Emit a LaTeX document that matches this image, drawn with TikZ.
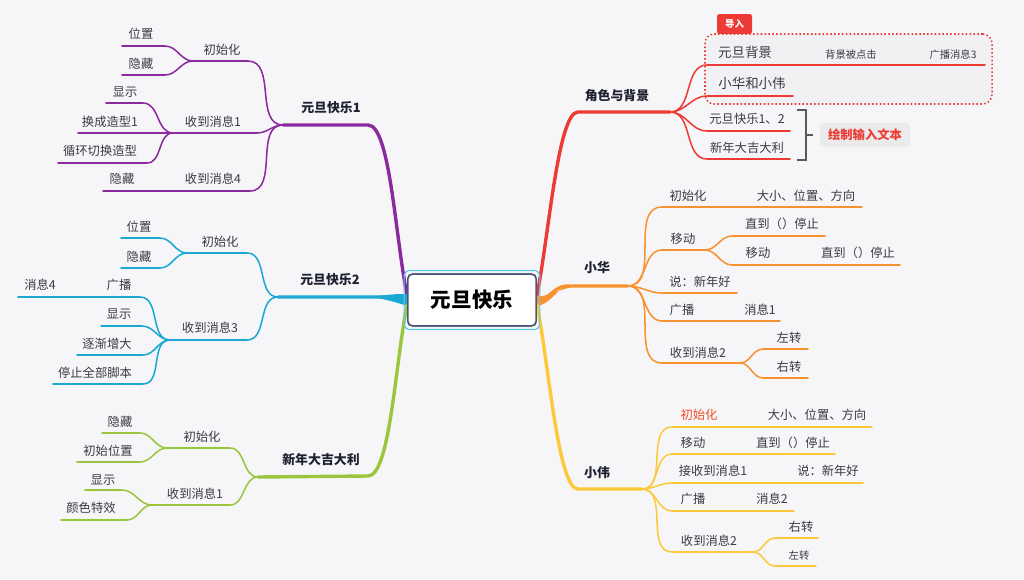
\documentclass[tikz,border=0pt]{standalone}
\usepackage{fontspec}
\setmainfont{Noto Sans CJK SC}
\usetikzlibrary{calc}
\definecolor{bg}{HTML}{F6F6F9}
\definecolor{txt}{HTML}{3A3A44}
\definecolor{ttl}{HTML}{1E2230}
\definecolor{pl}{HTML}{8B2A9E}
\definecolor{cl}{HTML}{1BA9D4}
\definecolor{gl}{HTML}{9BC53D}
\definecolor{rl}{HTML}{EB3B34}
\definecolor{ol}{HTML}{F7922E}
\definecolor{yl}{HTML}{FCC93A}
\definecolor{rootc}{HTML}{4B5578}
\definecolor{selc}{HTML}{5AC8F5}
\definecolor{warn}{HTML}{F04E28}
\definecolor{grpfill}{HTML}{F1F1F3}
\definecolor{notefill}{HTML}{EBEBEB}
\definecolor{brkc}{HTML}{5A5A5A}

\begin{document}
\begin{tikzpicture}[x=0.03cm,y=-0.03cm,
  lab/.style={text=txt,font=\fontsize{10.5}{12}\selectfont,inner sep=0pt},
  big/.style={text=txt,font=\fontsize{11.5}{13}\selectfont,inner sep=0pt},
  sml/.style={text=txt,font=\fontsize{8.8}{10}\selectfont,inner sep=0pt},
  topic/.style={text=ttl,font=\fontsize{11}{13}\selectfont\bfseries,inner sep=0pt},
  br/.style={line width=1.3pt,line cap=round},
  mainbr/.style={line width=2.9pt,line cap=round},
  lb/.style={out=180,in=0},
  rb/.style={out=0,in=180}]

\useasboundingbox (0,0) rectangle (1024,579);
\fill[bg] (0,0) rectangle (1024,579);

% hubs and line ends
\path (283,125) coordinate (P0)
  (248,61) coordinate (p1s) (193,61) coordinate (P1)
  (165,46) coordinate (p11s) (122,46) coordinate (p11e)
  (165,75) coordinate (p12s) (122,75) coordinate (p12e)
  (257,133) coordinate (p2s) (173,133) coordinate (P2)
  (143,103) coordinate (p21s) (106,103) coordinate (p21e)
  (78,133) coordinate (p22e)
  (147,163) coordinate (p23s) (58,163) coordinate (p23e)
  (250,191) coordinate (p3s) (103,191) coordinate (p3e);
\path (278,297) coordinate (C0)
  (247,253) coordinate (c1s) (187,253) coordinate (C1)
  (160,238) coordinate (c11s) (121,238) coordinate (c11e)
  (160,268) coordinate (c12s) (121,268) coordinate (c12e)
  (247,340) coordinate (c2s) (170,340) coordinate (C2)
  (140,297) coordinate (c21s) (18,297) coordinate (c21e)
  (142,326) coordinate (c22s) (101,326) coordinate (c22e)
  (143,355) coordinate (c23s) (77,355) coordinate (c23e)
  (143,384) coordinate (c24s) (53,384) coordinate (c24e);
\path (258,477) coordinate (G0)
  (230,448) coordinate (g1s) (167,448) coordinate (G1)
  (140,433) coordinate (g11s) (102,433) coordinate (g11e)
  (140,462) coordinate (g12s) (77,462) coordinate (g12e)
  (230,505) coordinate (g2s) (152,505) coordinate (G2)
  (122,490) coordinate (g21s) (85,490) coordinate (g21e)
  (127,520) coordinate (g22s) (61,520) coordinate (g22e);
\path (670,112) coordinate (R0)
  (707,65) coordinate (r1s) (985,65) coordinate (r1e)
  (707,96) coordinate (r2s) (793,96) coordinate (r2e)
  (707,131) coordinate (r3s) (790,131) coordinate (r3e)
  (707,159) coordinate (r4s) (790,159) coordinate (r4e);
\path (628,286) coordinate (O0)
  (662,207) coordinate (o1s) (862,207) coordinate (o1e)
  (662,250) coordinate (o2s) (705,250) coordinate (O2)
  (732,236) coordinate (o21s) (825,236) coordinate (o21e)
  (732,265) coordinate (o22s) (900,265) coordinate (o22e)
  (662,293) coordinate (o3s) (737,293) coordinate (o3e)
  (662,321) coordinate (o4s) (780,321) coordinate (o4e)
  (662,363) coordinate (o5s) (740,363) coordinate (O5)
  (763,349) coordinate (o51s) (808,349) coordinate (o51e)
  (763,378) coordinate (o52s) (808,378) coordinate (o52e);
\path (642,489) coordinate (Y0)
  (672,427) coordinate (y1s) (872,427) coordinate (y1e)
  (672,454) coordinate (y2s) (835,454) coordinate (y2e)
  (672,483) coordinate (y3s) (863,483) coordinate (y3e)
  (672,511) coordinate (y4s) (794,511) coordinate (y4e)
  (672,552) coordinate (y5s) (753,552) coordinate (Y5)
  (775,538) coordinate (y51s) (818,538) coordinate (y51e)
  (775,566) coordinate (y52s) (816,566) coordinate (y52e);

% import group
\node[fill=rl,text=white,font=\fontsize{8}{9}\selectfont\bfseries,minimum width=1.05cm,
  minimum height=0.6cm,inner sep=0pt,rounded corners=2pt] (imp) at (734.5,24) {导入};
\node[draw=rl,fill=grpfill,dotted,line width=1.3pt,rounded corners=8pt,
  minimum width=8.61cm,minimum height=2.1cm] (grp) at (848.5,69) {};

\node (root) at (472,300) [draw=rootc,line width=1.3pt,fill=white,rounded corners=4pt,
  minimum width=3.85cm,minimum height=1.55cm,font=\fontsize{17.5}{20}\selectfont\bfseries] {元旦快乐};

% main branches
\draw[mainbr,pl] ([yshift=4pt]root.west) .. controls +(-12,-60) and (390,125) .. (368,125) -- (P0);
\draw[mainbr,cl] (root.west) to[lb] (380,297) -- (C0);
\fill[cl] ([yshift=5pt]root.west) .. controls (395,294) .. (378,296) -- (378,298) .. controls (395,302) .. ([yshift=-5pt]root.west) -- cycle;
\draw[mainbr,gl] ([yshift=-4pt]root.west) .. controls +(-12,60) and (390,476) .. (368,476) -- (G0);
\draw[mainbr,rl] ([yshift=4pt]root.east) .. controls +(12,-60) and (558,112) .. (578,112) -- (R0);
\draw[mainbr,ol] (root.east) to[rb] (567,286) -- (O0);
\fill[ol] ([yshift=-5pt]root.east) .. controls (552,304) and (556,288) .. (570,285) -- (570,287.5) .. controls (558,290) and (552,296) .. ([yshift=3pt]root.east) -- cycle;
\draw[mainbr,yl] ([yshift=-4pt]root.east) .. controls +(12,60) and (558,489) .. (578,489) -- (Y0);

\node[draw=rootc,line width=1.3pt,fill=white,rounded corners=4pt,
  minimum width=3.85cm,minimum height=1.55cm,font=\fontsize{17.5}{20}\selectfont\bfseries] at (root) {元旦快乐};
\draw[selc,line width=1pt,rounded corners=5pt] ([shift={(-2.5pt,2.5pt)}]root.north west) rectangle ([shift={(2.5pt,-2.5pt)}]root.south east);

% 元旦快乐1
\draw[br,pl] (P0) to[lb] (p1s) -- (P1) to[lb] (p11s) -- (p11e);
\draw[br,pl] (P1) to[lb] (p12s) -- (p12e);
\draw[br,pl] (P0) to[lb] (p2s) -- (P2) to[lb] (p21s) -- (p21e);
\draw[br,pl] (P2) -- (p22e);
\draw[br,pl] (P2) to[lb] (p23s) -- (p23e);
\draw[br,pl] (P0) to[lb] (p3s) -- (p3e);
\node[topic] (t1) at (331,108) {元旦快乐1};
\node[lab] (p1) at (222,50) {初始化};
\node[lab] (p11) at (141,34) {位置};
\node[lab] (p12) at (141,64) {隐藏};
\node[lab] (p2) at (213,122) {收到消息1};
\node[lab] (p21) at (125,92) {显示};
\node[lab] (p22) at (110,122) {换成造型1};
\node[lab] (p23) at (100,151) {循环切换造型};
\node[lab] (p3) at (213,179) {收到消息4};
\node[lab] (p31) at (122,179) {隐藏};

% 元旦快乐2
\draw[br,cl] (C0) to[lb] (c1s) -- (C1) to[lb] (c11s) -- (c11e);
\draw[br,cl] (C1) to[lb] (c12s) -- (c12e);
\draw[br,cl] (C0) to[lb] (c2s) -- (C2) to[lb] (c21s) -- (c21e);
\draw[br,cl] (C2) to[lb] (c22s) -- (c22e);
\draw[br,cl] (C2) to[lb] (c23s) -- (c23e);
\draw[br,cl] (C2) to[lb] (c24s) -- (c24e);
\node[topic] (t2) at (330,280) {元旦快乐2};
\node[lab] (c1) at (220,242) {初始化};
\node[lab] (c11) at (139,227) {位置};
\node[lab] (c12) at (139,257) {隐藏};
\node[lab] (c2) at (210,328) {收到消息3};
\node[lab] (c21) at (119,285) {广播};
\node[lab] (c211) at (40,285) {消息4};
\node[lab] (c22) at (119,314) {显示};
\node[lab] (c23) at (107,344) {逐渐增大};
\node[lab] (c24) at (95,373) {停止全部脚本};

% 新年大吉大利
\draw[br,gl] (G0) to[lb] (g1s) -- (G1) to[lb] (g11s) -- (g11e);
\draw[br,gl] (G1) to[lb] (g12s) -- (g12e);
\draw[br,gl] (G0) to[lb] (g2s) -- (G2) to[lb] (g21s) -- (g21e);
\draw[br,gl] (G2) to[lb] (g22s) -- (g22e);
\node[topic] (t3) at (321,460) {新年大吉大利};
\node[lab] (g1) at (202,437) {初始化};
\node[lab] (g11) at (120,422) {隐藏};
\node[lab] (g12) at (108,451) {初始位置};
\node[lab] (g2) at (195,494) {收到消息1};
\node[lab] (g21) at (103,480) {显示};
\node[lab] (g22) at (91,508) {颜色特效};

% 角色与背景
\draw[br,rl] (R0) to[rb] (r1s) -- (r1e);
\draw[br,rl] (R0) to[rb] (r2s) -- (r2e);
\draw[br,rl] (R0) to[rb] (r3s) -- (r3e);
\draw[br,rl] (R0) to[rb] (r4s) -- (r4e);
\node[topic] (t4) at (617,96) {角色与背景};
\node[big] (r1) at (745,52) {元旦背景};
\node[sml] (r11) at (851,55) {背景被点击};
\node[sml] (r12) at (953,55) {广播消息3};
\node[big] (r2) at (752,83) {小华和小伟};
\node[lab] (r3) at (747,119) {元旦快乐1、2};
\node[lab] (r4) at (747,148) {新年大吉大利};
\path (797,110) coordinate (bk1) (806,110) coordinate (bk2) (806,160) coordinate (bk3)
  (797,160) coordinate (bk4) (806,135) coordinate (bkm) (813,135) coordinate (bkt);
\draw[brkc,line width=1pt] (bk1) -- (bk2) -- (bk3) -- (bk4);
\draw[brkc,line width=1pt] (bkm) -- (bkt);
\node[fill=notefill,rounded corners=3pt,text=rl,font=\fontsize{10.5}{12}\selectfont\bfseries,
  minimum width=2.7cm,minimum height=0.72cm,inner sep=0pt] (note) at (865,135) {绘制输入文本};

% 小华
\draw[br,ol] (O0) to[rb] (o1s) -- (o1e);
\draw[br,ol] (O0) to[rb] (o2s) -- (O2) to[rb] (o21s) -- (o21e);
\draw[br,ol] (O2) to[rb] (o22s) -- (o22e);
\draw[br,ol] (O0) to[rb] (o3s) -- (o3e);
\draw[br,ol] (O0) to[rb] (o4s) -- (o4e);
\draw[br,ol] (O0) to[rb] (o5s) -- (O5) to[rb] (o51s) -- (o51e);
\draw[br,ol] (O5) to[rb] (o52s) -- (o52e);
\node[topic] (t5) at (597,268) {小华};
\node[lab] (o1) at (688,196) {初始化};
\node[lab] (o11) at (806,196) {大小、位置、方向};
\node[lab] (o2) at (683,239) {移动};
\node[lab] (o21) at (782,224) {直到（）停止};
\node[lab] (o22) at (758,253) {移动};
\node[lab] (o221) at (858,253) {直到（）停止};
\node[lab] (o3) at (700,282) {说：新年好};
\node[lab] (o4) at (682,310) {广播};
\node[lab] (o41) at (760,310) {消息1};
\node[lab] (o5) at (698,353) {收到消息2};
\node[lab] (o51) at (789,338) {左转};
\node[lab] (o52) at (789,367) {右转};

% 小伟
\draw[br,yl] (Y0) to[rb] (y1s) -- (y1e);
\draw[br,yl] (Y0) to[rb] (y2s) -- (y2e);
\draw[br,yl] (Y0) to[rb] (y3s) -- (y3e);
\draw[br,yl] (Y0) to[rb] (y4s) -- (y4e);
\draw[br,yl] (Y0) to[rb] (y5s) -- (Y5) to[rb] (y51s) -- (y51e);
\draw[br,yl] (Y5) to[rb] (y52s) -- (y52e);
\node[topic] (t6) at (597,473) {小伟};
\node[lab,text=warn] (y1) at (699,415) {初始化};
\node[lab] (y11) at (817,415) {大小、位置、方向};
\node[lab] (y2) at (693,443) {移动};
\node[lab] (y21) at (793,443) {直到（）停止};
\node[lab] (y3) at (713,471) {接收到消息1};
\node[lab] (y31) at (828,471) {说：新年好};
\node[lab] (y4) at (693,499) {广播};
\node[lab] (y41) at (772,499) {消息2};
\node[lab] (y5) at (709,541) {收到消息2};
\node[lab] (y51) at (801,527) {右转};
\node[sml] (y52) at (799,556) {左转};
\end{tikzpicture}
\end{document}
